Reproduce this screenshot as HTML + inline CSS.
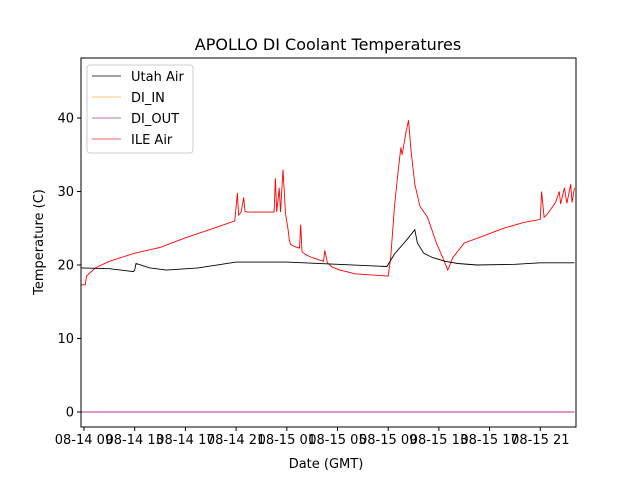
<!DOCTYPE html>
<html><head><meta charset="utf-8"><style>
body{margin:0;background:#fff;font-family:"Liberation Sans","DejaVu Sans",sans-serif}
svg text{font-family:"DejaVu Sans","Liberation Sans",sans-serif;fill:#000}
</style></head><body>
<svg id="c" width="640" height="480" xmlns="http://www.w3.org/2000/svg">
<rect width="640" height="480" fill="#fff"/>
<text x="328" y="50" font-size="16" text-anchor="middle">APOLLO DI Coolant Temperatures</text>
<g id="plot"></g>
<rect x="81" y="58" width="495" height="369" fill="none" stroke="#000" stroke-width="1"/>
<g id="axes"></g>
<text x="326" y="468" font-size="13" text-anchor="middle">Date (GMT)</text>
<text x="0" y="0" font-size="13" text-anchor="middle" transform="translate(43,242) rotate(-90)">Temperature (C)</text>
<g>
<rect x="87" y="65" width="106" height="88" rx="3" fill="#fff" stroke="#ccc"/>
<line x1="92" y1="76" x2="121" y2="76" stroke="#000" stroke-width="0.8"/><text x="131" y="81" font-size="13">Utah Air</text>
<line x1="92" y1="97" x2="121" y2="97" stroke="#f5b942" stroke-width="0.8"/><text x="131" y="102" font-size="13">DI_IN</text>
<line x1="92" y1="118" x2="121" y2="118" stroke="#9b3fa0" stroke-width="0.8"/><text x="131" y="123" font-size="13">DI_OUT</text>
<line x1="92" y1="139" x2="121" y2="139" stroke="#e8343a" stroke-width="0.8"/><text x="131" y="144" font-size="13">ILE Air</text>
</g>
</svg>
<script>
// hours since 08-14 09:00
const xTickLabels=["08-14 09","08-14 13","08-14 17","08-14 21","08-15 01","08-15 05","08-15 09","08-15 13","08-15 17","08-15 21"];
const xTickHours=[0,4,8,12,16,20,24,28,32,36];
const yTicks=[0,10,20,30,40];
const ileHours=[-0.2,0.1,0.2,0.9,2.0,4.0,6.0,8.0,9.9,11.9,12.1,12.2,12.4,12.6,12.7,12.9,15.0,15.1,15.2,15.4,15.5,15.7,15.9,16.1,16.2,16.3,16.6,17.0,17.1,17.2,17.5,18.0,18.9,19.0,19.2,19.4,19.6,20.2,21.4,23.9,24.0,24.2,24.5,24.8,25.0,25.1,25.4,25.6,25.8,26.1,26.5,27.1,27.5,27.8,28.3,28.7,29.1,30.0,31.6,33.1,34.7,36.0,36.1,36.3,36.5,36.8,37.2,37.5,37.6,37.9,38.1,38.4,38.5,38.7];
const ileVals=[17.3,17.3,18.5,19.6,20.5,21.6,22.4,23.7,24.8,26.0,29.8,26.8,27.2,29.2,27.3,27.2,27.2,31.8,27.2,30.5,27.2,33.0,27.0,24.8,23.4,22.8,22.5,22.3,25.5,21.8,21.4,21.0,20.5,22.0,20.3,20.0,19.7,19.3,18.8,18.5,18.5,21.0,28.0,33.0,36.0,35.0,38.0,39.7,35.6,31.0,28.0,26.5,24.5,23.0,21.0,19.3,21.0,23.0,24.0,25.0,25.8,26.2,30.0,26.5,26.8,27.5,28.5,30.0,28.3,30.5,28.4,31.0,28.5,30.5];
const utahHours=[-0.2,2.0,3.9,4.0,4.1,5.2,6.5,9.0,12.0,16.0,20.0,23.9,24.5,25.5,26.1,26.3,26.8,27.5,28.5,29.5,31.0,34.0,36.0,38.7];
const utahVals=[19.6,19.5,19.1,19.3,20.2,19.6,19.3,19.6,20.4,20.4,20.1,19.8,21.5,23.5,24.8,23.0,21.6,21.0,20.5,20.2,20.0,20.1,20.3,20.3];
const diOutHours=[-0.2,38.7];
const diOutVals=[0,0];
const L=81,R=576,T=58,B=427;
const X=h=>84+h*50.7/4;
const Y=v=>412-v*7.35;
const NS="http://www.w3.org/2000/svg";
const plot=document.getElementById('plot'),axes=document.getElementById('axes');
function mk(tag,a,p){const e=document.createElementNS(NS,tag);for(const k in a)e.setAttribute(k,a[k]);p.appendChild(e);return e;}
function line(hs,vs,color,name){
 const d=hs.map((h,i)=>(i?'L':'M')+X(h).toFixed(1)+','+Y(vs[i]).toFixed(1)).join('');
 const p=mk('path',{d:d,fill:'none',stroke:color,'stroke-width':0.9},plot);
 
 
}
line(diOutHours,diOutVals,'#c0289c','di-out-line');
line(ileHours,ileVals,'#ff0000','ile-air-line');
line(utahHours,utahVals,'#000000','utah-air-line');
xTickHours.forEach((h,i)=>{
 const x=X(h);
 mk('line',{x1:x,y1:B,x2:x,y2:B+4,stroke:'#000'},axes);
 const t=mk('text',{x:x,y:B+17,'font-size':13,'text-anchor':'middle'},axes);
 t.textContent=xTickLabels[i];
 
 
});
yTicks.forEach(v=>{
 const y=Y(v);
 mk('line',{x1:L-4,y1:y,x2:L,y2:y,stroke:'#000'},axes);
 const t=mk('text',{x:L-7,y:y+4.5,'font-size':13,'text-anchor':'end'},axes);
 t.textContent=v;
 
 
});
</script>
</body></html>
